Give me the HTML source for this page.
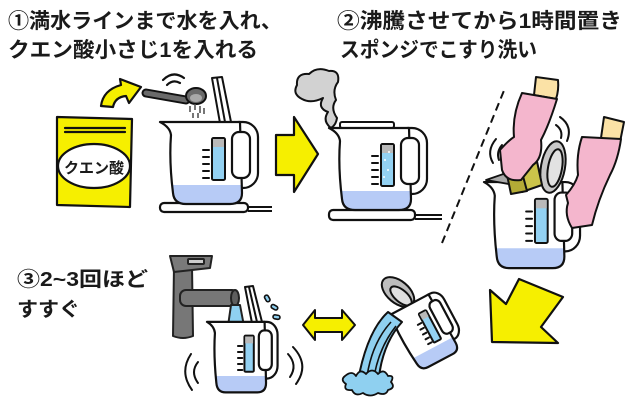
<!DOCTYPE html>
<html><head><meta charset="utf-8"><style>
html,body{margin:0;padding:0;background:#fff;}
svg{display:block;}
text{font-family:"Liberation Sans","Noto Sans CJK JP",sans-serif;font-weight:700;fill:#1a1a1a;}
</style></head><body>
<svg width="640" height="400" viewBox="0 0 640 400" xmlns="http://www.w3.org/2000/svg">
<defs>
<g id="kt" stroke-linejoin="round" stroke-linecap="round">
 <rect x="64" y="1" width="34" height="66" rx="15" fill="#fff" stroke="#111" stroke-width="2.2" vector-effect="non-scaling-stroke"/>
 <path d="M0,1 L80,1 L82,72 Q82,83 70,83 L26,83 Q14,83 13,72 Q9,40 11,14 Q10,6 0,1 Z" fill="#fff"/>
 <path d="M12,64 L82,64 L82,72 Q82,83 70,83 L26,83 Q14,83 13,72 Z" fill="#b7cbf6"/>
 <path d="M0,1 L80,1 L82,72 Q82,83 70,83 L26,83 Q14,83 13,72 Q9,40 11,14 Q10,6 0,1 Z" fill="none" stroke="#111" stroke-width="2.2" vector-effect="non-scaling-stroke"/>
 <rect x="72" y="11" width="18" height="46" rx="7" fill="#fff" stroke="#111" stroke-width="2.2" vector-effect="non-scaling-stroke"/>
 <rect x="52" y="17" width="13" height="42" rx="1.5" fill="#93d1f2" stroke="#111" stroke-width="2" vector-effect="non-scaling-stroke"/>
 <rect x="53" y="18" width="11" height="8" fill="#b9b9b9"/>
 <g stroke="#111" stroke-width="2">
  <line x1="43" y1="29" x2="49" y2="29" vector-effect="non-scaling-stroke"/>
  <line x1="43" y1="36" x2="49" y2="36" vector-effect="non-scaling-stroke"/>
  <line x1="43" y1="43" x2="49" y2="43" vector-effect="non-scaling-stroke"/>
  <line x1="43" y1="50" x2="49" y2="50" vector-effect="non-scaling-stroke"/>
  <line x1="43" y1="57" x2="49" y2="57" vector-effect="non-scaling-stroke"/>
 </g>
</g>
</defs>

<!-- Titles -->
<text x="8" y="28" font-size="21" textLength="274" lengthAdjust="spacingAndGlyphs">①満水ラインまで水を入れ、</text>
<text x="8" y="57" font-size="21" textLength="250" lengthAdjust="spacingAndGlyphs">クエン酸小さじ1を入れる</text>
<text x="337" y="28" font-size="21" textLength="285" lengthAdjust="spacingAndGlyphs">②沸騰させてから1時間置き</text>
<text x="340" y="57" font-size="21" textLength="197" lengthAdjust="spacingAndGlyphs">スポンジでこすり洗い</text>
<text x="17" y="286" font-size="20" textLength="131" lengthAdjust="spacingAndGlyphs">③2~3回ほど</text>
<text x="17" y="316" font-size="20" textLength="63" lengthAdjust="spacingAndGlyphs">すすぐ</text>

<g stroke="#111" stroke-width="2.2" stroke-linejoin="round" stroke-linecap="round">
<!-- Bag -->
<path d="M57,117 L132,119 L130,207 L57,205 Z" fill="#f6ef00"/>
<line x1="65" y1="128" x2="125" y2="128"/>
<line x1="65" y1="132" x2="125" y2="132"/>
<ellipse cx="94" cy="166" rx="36" ry="22" fill="#fff"/>
<!-- curved arrow -->
<path d="M101,106 Q103,90 121,85 L120,79 L141,87 L129,103 L126,96 Q115,97 113,107 Z" fill="#f6ef00"/>
</g>
<text x="64" y="173" font-size="15" font-weight="700" textLength="60" lengthAdjust="spacingAndGlyphs">クエン酸</text>

<g stroke="#111" stroke-width="2.2" stroke-linejoin="round" stroke-linecap="round" fill="none">
<path d="M163,80 Q173,70 184,78"/>
<path d="M167,85 Q173,79 180,83"/>
</g>

<!-- Kettle 1 stick -->
<g stroke="#111" stroke-width="2" stroke-linejoin="round">
<path d="M212,78 L222,77 L231,122 L220,123 Z" fill="#fff"/>
<line x1="217" y1="78" x2="225" y2="122"/>
</g>
<!-- Kettle 1 -->
<rect x="160" y="203" width="88" height="9" rx="4" fill="#fff" stroke="#111" stroke-width="2.2"/>
<line x1="248" y1="207" x2="272" y2="207" stroke="#111" stroke-width="2"/>
<line x1="248" y1="211" x2="272" y2="211" stroke="#111" stroke-width="2"/>
<use href="#kt" transform="translate(160,121)"/>
<!-- spoon -->
<path d="M146,93 L186,100" stroke="#111" stroke-width="9" stroke-linecap="round"/>
<path d="M146,93 L186,100" stroke="#6a6a6a" stroke-width="5" stroke-linecap="round"/>
<ellipse cx="196" cy="96" rx="10" ry="8" fill="#6a6a6a" stroke="#111" stroke-width="2"/>
<ellipse cx="196" cy="98" rx="6" ry="4" fill="#a8a8a8"/>
<g stroke="#555" stroke-width="1.6">
<line x1="190" y1="106" x2="190" y2="112"/><line x1="195" y1="104" x2="195" y2="110"/><line x1="200" y1="106" x2="200" y2="113"/><line x1="204" y1="108" x2="204" y2="114"/><line x1="193" y1="113" x2="193" y2="118"/><line x1="198" y1="113" x2="198" y2="118"/>
</g>

<!-- Right arrow -->
<path d="M276,135 L294,135 L294,117 L318,154 L294,192 L294,175 L276,175 Z" fill="#f6ef00" stroke="#111" stroke-width="2.2" stroke-linejoin="round"/>

<!-- Steam -->
<path d="M331,128 Q322,121 328,112 Q317,108 323,98 Q311,104 302,99 Q292,94 297,85 Q296,73 309,74 Q317,66 329,71 Q340,70 338,82 Q332,90 336,100 Q330,108 337,118 Q336,125 331,128 Z" fill="#d2d2d2" stroke="#111" stroke-width="2" stroke-linejoin="round"/>
<!-- Kettle 2 -->
<rect x="329" y="210" width="86" height="10" rx="4" fill="#fff" stroke="#111" stroke-width="2.2"/>
<line x1="415" y1="215" x2="442" y2="215" stroke="#111" stroke-width="2"/>
<line x1="415" y1="219" x2="442" y2="219" stroke="#111" stroke-width="2"/>
<rect x="340" y="122" width="54" height="6" rx="2" fill="#fff" stroke="#111" stroke-width="2"/>
<use href="#kt" transform="translate(329,127)"/>
<g fill="#fff"><circle cx="385" cy="160" r="1"/><circle cx="388" cy="170" r="1"/><circle cx="384" cy="177" r="1"/><circle cx="389" cy="152" r="1"/></g>

<!-- Dashed line -->
<line x1="442" y1="243" x2="505" y2="88" stroke="#111" stroke-width="2" stroke-dasharray="8,5"/>

<!-- Scrub kettle -->
<use href="#kt" transform="translate(484,181) scale(0.98,1.05)"/>
<path d="M486,180 L512,171 L520,186 Z" fill="#aaa" stroke="#111" stroke-width="1.8" stroke-linejoin="round"/>
<g stroke="#111" stroke-width="2" stroke-linejoin="round">
<ellipse cx="553" cy="167" rx="12" ry="26" transform="rotate(10 553 167)" fill="#c8c8c8"/>
<ellipse cx="555" cy="168" rx="7" ry="19" transform="rotate(10 555 168)" fill="#e2e2e2"/>
<path d="M515,158 L535,152 L542,185 L522,192 Z" fill="#cbc44a"/>
<path d="M506,170 L520,165 L527,191 L511,194 Z" fill="#b4ab36"/>
<path d="M536,77 L558,80 Q559,90 556,99 L534,95 Z" fill="#fbe2a6"/>
<path d="M522,93 L557,99 Q549,125 541,140 Q543,158 533,165 L521,180 Q506,182 502,170 L500,150 Q509,140 514,137 Q512,115 522,93 Z" fill="#f4b6cd"/>
<path d="M604,117 L624,122 L620,142 L601,138 Z" fill="#fbe2a6"/>
<path d="M582,137 L621,139 Q618,160 610,175 Q598,200 592,225 L572,228 Q564,215 568,203 L566,195 Q575,185 578,175 Q576,155 582,137 Z" fill="#f4b6cd"/>
</g>
<g stroke="#111" stroke-width="2" fill="none" stroke-linecap="round">
<path d="M496,139 Q486,151 493,163"/>
<path d="M502,145 Q496,152 499,160"/>
<path d="M560,117 Q573,126 567,141"/>
<path d="M556,125 Q563,130 561,138"/>
</g>

<!-- Down-left arrow -->
<path d="M490,290 L506,304 L519,279 L563,297 L541,327 L558,343 L492,342 Z" fill="#f6ef00" stroke="#111" stroke-width="2.2" stroke-linejoin="round"/>

<!-- Double arrow -->
<path d="M303,325 L315,310 L315,318 L342,318 L342,310 L355,325 L342,340 L342,332 L315,332 L315,340 Z" fill="#f6ef00" stroke="#111" stroke-width="2" stroke-linejoin="round"/>

<!-- Faucet -->
<g stroke="#222" stroke-width="2" stroke-linejoin="round">
<path d="M174,266 L192,266 L193,336 Q183,340 173,336 Z" fill="#777"/>
<path d="M170,256 L212,256 L210,268 L174,272 Z" fill="#7a7a7a"/>
<rect x="188" y="259" width="16" height="5" rx="1" fill="#ccc"/>
<rect x="180" y="290" width="58" height="16" rx="6" fill="#777"/>
<ellipse cx="235" cy="298" rx="4" ry="8" fill="#5e5e5e"/>
<path d="M231,305 L240,305 L244,326 L228,326 Z" fill="#8fd0f0"/>
</g>
<!-- Kettle 4 stick -->
<g stroke="#111" stroke-width="2" stroke-linejoin="round">
<path d="M245,287 L253,286 L262,322 L252,323 Z" fill="#fff"/>
<line x1="249" y1="287" x2="257" y2="322"/>
</g>
<use href="#kt" transform="translate(207,321) scale(0.72,0.86)"/>
<g stroke="#111" stroke-width="1.6" fill="#8fd0f0">
<rect x="265" y="295" width="4" height="7" rx="2" transform="rotate(-30 267 298)"/>
<rect x="272" y="304" width="4" height="7" rx="2" transform="rotate(-60 274 307)"/>
<rect x="274" y="314" width="4" height="7" rx="2" transform="rotate(-80 276 317)"/>
</g>
<g stroke="#111" stroke-width="2" fill="none" stroke-linecap="round">
<path d="M191,354 Q179,372 192,390"/>
<path d="M198,362 Q190,372 198,383"/>
<path d="M293,347 Q310,365 296,384"/>
<path d="M288,354 Q298,365 290,377"/>
</g>

<!-- Pouring kettle -->
<g stroke="#111" stroke-width="2" stroke-linejoin="round">
<ellipse cx="398" cy="292" rx="19" ry="11" transform="rotate(40 398 292)" fill="#bdbdbd"/>
<ellipse cx="401" cy="296" rx="13" ry="6" transform="rotate(40 401 296)" fill="#e0e0e0"/>
</g>
<use href="#kt" transform="translate(426,332) rotate(-28) scale(0.64,0.78) translate(-49,-42)"/>
<path d="M388,312 Q366,332 357,386 L378,386 Q381,345 402,322 Z" fill="#8fd0f0" stroke="#111" stroke-width="2" stroke-linejoin="round"/>
<path d="M366,384 Q370,345 391,322" stroke="#111" stroke-width="1.6" fill="none"/>
<path d="M373,384 Q377,350 396,326" stroke="#111" stroke-width="1.6" fill="none"/>
<path d="M345,376 Q352,370 356,376 Q360,368 366,374 Q372,367 378,374 Q384,368 388,376 Q395,375 391,382 Q396,388 388,390 Q386,396 378,393 Q370,398 363,393 Q355,397 352,390 Q343,391 346,384 Q340,380 345,376 Z" fill="#8fd0f0" stroke="#111" stroke-width="1.8" stroke-linejoin="round"/>
</svg>
</body></html>
